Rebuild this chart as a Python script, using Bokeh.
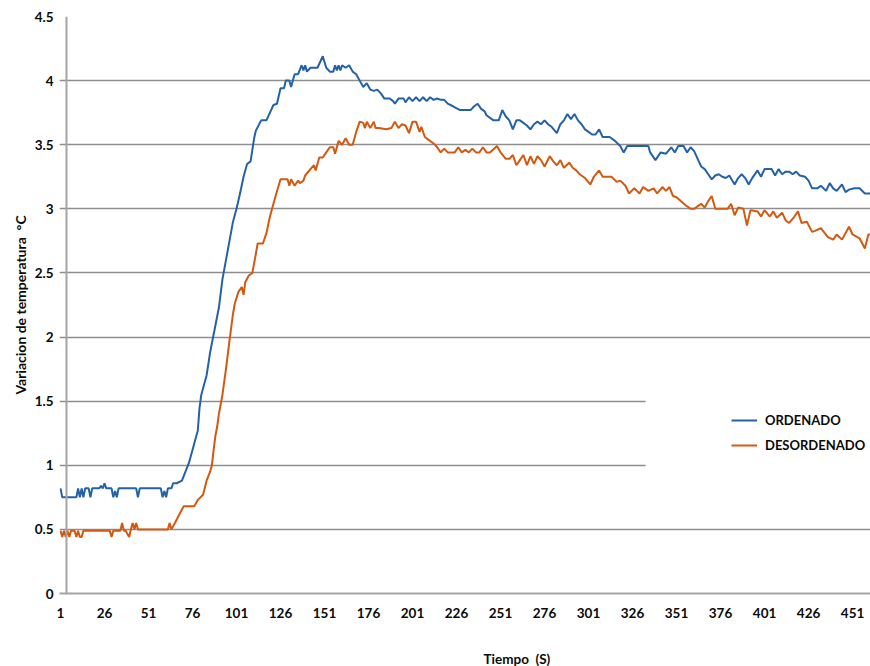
from bokeh.plotting import figure
from bokeh.models import Range1d, FixedTicker, Span, BoxAnnotation, Legend, LegendItem, Title
from bokeh.embed import file_html
from bokeh.resources import INLINE

# ---------------- data ----------------
x_ticks = [1, 26, 51, 76, 101, 126, 151, 176, 201, 226, 251, 276, 301, 326, 351, 376, 401, 426, 451]
x_tick_labels = ["1", "26", "51", "76", "101", "126", "151", "176", "201", "226", "251",
                 "276", "301", "326", "351", "376", "401", "426", "451"]
y_ticks = [0, 0.5, 1, 1.5, 2, 2.5, 3, 3.5, 4, 4.5]
y_tick_labels = ["0", "0.5", "1", "1.5", "2", "2.5", "3", "3.5", "4", "4.5"]
series_names = ["ORDENADO", "DESORDENADO"]
x_title = "Tiempo\u00a0\u00a0(S)"
y_title = "Variacion de temperatura\u00a0\u00a0\u00b0C"

tiempo_ordenado = [1, 2, 10, 11, 12, 13, 14, 15, 17, 18, 19, 23, 24, 25, 26, 27, 30, 31, 32, 33, 34, 44, 45, 46,
                   58, 59, 60, 61, 62, 64, 65, 67, 70, 72, 74, 76, 78, 79, 80, 81, 82, 84, 86, 88, 91, 93, 95,
                   97, 99, 101, 103, 105, 107, 109, 111, 112, 115, 118, 120, 122, 124, 126, 128, 129, 131, 132,
                   134, 136, 138, 139, 140, 141, 143, 145, 147, 150, 152, 154, 156, 157, 158, 159, 160, 161,
                   163, 165, 167, 169, 171, 173, 175, 177, 179, 181, 183, 185, 188, 190, 191, 193, 196, 197,
                   199, 201, 203, 205, 207, 209, 211, 213, 215, 217, 219, 221, 224, 228, 234, 236, 238, 240,
                   242, 243, 247, 250, 252, 254, 256, 258, 260, 262, 264, 266, 268, 270, 272, 274, 276, 278,
                   280, 283, 285, 287, 289, 291, 293, 295, 297, 299, 301, 303, 305, 307, 309, 313, 316, 319,
                   321, 323, 335, 336, 339, 342, 345, 348, 350, 352, 355, 357, 359, 361, 363, 365, 367, 369,
                   371, 373, 375, 377, 379, 381, 384, 386, 388, 390, 392, 394, 397, 399, 401, 405, 407, 409,
                   411, 413, 415, 417, 419, 421, 424, 426, 428, 431, 433, 436, 438, 440, 442, 445, 447, 449,
                   452, 455, 458, 462]
ordenado = [0.82, 0.75, 0.75, 0.82, 0.75, 0.82, 0.75, 0.82, 0.82, 0.75, 0.82, 0.82, 0.84, 0.82, 0.86, 0.82,
            0.82, 0.75, 0.80, 0.75, 0.82, 0.82, 0.75, 0.82, 0.82, 0.75, 0.80, 0.75, 0.82, 0.82, 0.86, 0.86,
            0.88, 0.95, 1.02, 1.12, 1.22, 1.27, 1.45, 1.55, 1.60, 1.70, 1.88, 2.02, 2.23, 2.45, 2.60, 2.75,
            2.90, 3.00, 3.12, 3.25, 3.35, 3.37, 3.55, 3.61, 3.69, 3.69, 3.75, 3.81, 3.82, 3.94, 3.94, 4.00,
            4.00, 3.95, 4.05, 4.05, 4.12, 4.08, 4.12, 4.07, 4.10, 4.10, 4.10, 4.19, 4.10, 4.07, 4.07, 4.12,
            4.08, 4.12, 4.08, 4.12, 4.10, 4.12, 4.07, 4.05, 4.00, 3.95, 3.98, 3.93, 3.92, 3.93, 3.90, 3.86,
            3.86, 3.84, 3.82, 3.86, 3.86, 3.83, 3.87, 3.84, 3.87, 3.84, 3.87, 3.84, 3.87, 3.85, 3.86, 3.85,
            3.85, 3.82, 3.80, 3.77, 3.77, 3.80, 3.82, 3.78, 3.76, 3.73, 3.69, 3.69, 3.77, 3.72, 3.69, 3.62,
            3.69, 3.69, 3.67, 3.65, 3.62, 3.66, 3.68, 3.66, 3.69, 3.66, 3.64, 3.59, 3.66, 3.69, 3.74, 3.70,
            3.74, 3.69, 3.66, 3.62, 3.60, 3.58, 3.58, 3.62, 3.56, 3.56, 3.53, 3.49, 3.44, 3.49, 3.49, 3.44,
            3.38, 3.44, 3.43, 3.48, 3.44, 3.49, 3.49, 3.44, 3.48, 3.45, 3.39, 3.33, 3.31, 3.27, 3.23, 3.26,
            3.27, 3.25, 3.24, 3.26, 3.19, 3.24, 3.27, 3.24, 3.19, 3.24, 3.30, 3.25, 3.31, 3.31, 3.26, 3.31,
            3.27, 3.29, 3.29, 3.27, 3.29, 3.26, 3.25, 3.22, 3.16, 3.16, 3.18, 3.14, 3.20, 3.16, 3.14, 3.19,
            3.13, 3.15, 3.16, 3.16, 3.12, 3.12]

tiempo_desordenado = [1, 2, 3, 4, 5, 6, 7, 9, 10, 11, 12, 13, 14, 29, 30, 31, 35, 36, 37, 38, 40, 41, 42, 43,
                      44, 45, 46, 62, 63, 64, 66, 69, 71, 77, 79, 82, 84, 86, 87, 88, 89, 90, 91, 93, 95, 97,
                      99, 100, 102, 104, 105, 106, 108, 110, 112, 113, 116, 118, 120, 123, 126, 130, 131, 132,
                      134, 136, 137, 139, 140, 143, 145, 146, 148, 150, 152, 154, 156, 157, 159, 161, 163, 165,
                      167, 169, 171, 173, 174, 175, 177, 179, 180, 182, 186, 189, 191, 193, 195, 197, 199, 201,
                      203, 205, 206, 208, 210, 213, 215, 217, 219, 221, 223, 225, 227, 229, 231, 233, 235, 237,
                      239, 241, 243, 245, 249, 251, 254, 256, 258, 260, 262, 264, 266, 268, 270, 272, 274, 276,
                      279, 281, 283, 285, 287, 290, 292, 294, 296, 299, 302, 304, 307, 309, 314, 317, 319, 322,
                      324, 327, 330, 332, 335, 338, 340, 343, 345, 347, 349, 351, 356, 359, 361, 365, 367, 369,
                      371, 373, 380, 382, 384, 386, 389, 391, 393, 397, 399, 401, 404, 406, 408, 411, 413, 415,
                      418, 420, 422, 425, 428, 430, 433, 437, 440, 442, 445, 449, 451, 455, 458, 460, 462]
desordenado = [0.49, 0.44, 0.49, 0.44, 0.49, 0.44, 0.49, 0.49, 0.44, 0.49, 0.44, 0.44, 0.49, 0.49, 0.44,
               0.49, 0.49, 0.55, 0.49, 0.49, 0.44, 0.50, 0.55, 0.50, 0.55, 0.50, 0.50, 0.50, 0.55, 0.50,
               0.55, 0.63, 0.68, 0.68, 0.73, 0.77, 0.88, 0.95, 1.00, 1.12, 1.23, 1.30, 1.40, 1.55, 1.75,
               1.97, 2.18, 2.26, 2.35, 2.39, 2.33, 2.43, 2.48, 2.50, 2.65, 2.73, 2.73, 2.81, 2.94, 3.09,
               3.23, 3.23, 3.18, 3.23, 3.18, 3.22, 3.20, 3.22, 3.26, 3.31, 3.34, 3.30, 3.40, 3.40, 3.44,
               3.48, 3.48, 3.43, 3.53, 3.50, 3.55, 3.50, 3.50, 3.60, 3.68, 3.67, 3.63, 3.68, 3.63, 3.68,
               3.63, 3.63, 3.62, 3.63, 3.68, 3.63, 3.66, 3.65, 3.59, 3.68, 3.68, 3.60, 3.64, 3.56, 3.54,
               3.51, 3.48, 3.44, 3.47, 3.44, 3.44, 3.44, 3.48, 3.44, 3.46, 3.44, 3.47, 3.44, 3.44, 3.48,
               3.44, 3.44, 3.49, 3.44, 3.39, 3.39, 3.42, 3.34, 3.38, 3.42, 3.34, 3.41, 3.35, 3.41, 3.38,
               3.33, 3.41, 3.37, 3.34, 3.38, 3.32, 3.36, 3.32, 3.30, 3.27, 3.24, 3.19, 3.25, 3.30, 3.25,
               3.25, 3.21, 3.22, 3.18, 3.12, 3.16, 3.12, 3.17, 3.14, 3.16, 3.12, 3.17, 3.14, 3.17, 3.10,
               3.09, 3.03, 3.00, 3.00, 3.04, 3.01, 3.06, 3.10, 3.00, 3.00, 3.04, 2.95, 3.01, 3.00, 2.87,
               2.99, 2.98, 2.94, 2.99, 2.94, 2.98, 2.93, 2.97, 2.91, 2.89, 2.94, 2.98, 2.89, 2.90, 2.82,
               2.83, 2.85, 2.78, 2.76, 2.80, 2.76, 2.86, 2.80, 2.77, 2.69, 2.80, 2.80]

# ---------------- styles ----------------
BLUE = "#2462a8"
ORANGE = "#d2590f"
GRID = "#8e8e8e"
AXIS = "#a4a4a4"
FONT = "Lato"
TXT = "#0a0a0a"

p = figure(width=870, height=666, output_backend="svg", toolbar_location=None,
           x_range=Range1d(0.43, 461.2), y_range=Range1d(0, 4.5),
           min_border_left=59, min_border_right=0, min_border_top=16, min_border_bottom=73)
p.outline_line_color = None
p.background_fill_color = "white"
p.border_fill_color = "white"

p.xgrid.visible = False
p.ygrid.ticker = FixedTicker(ticks=y_ticks)
p.ygrid.grid_line_color = GRID
p.ygrid.grid_line_width = 1.6

# y axis
p.yaxis.ticker = FixedTicker(ticks=y_ticks)
p.yaxis.major_label_overrides = {t: l for t, l in zip(y_ticks, y_tick_labels)}
p.yaxis.axis_line_color = None
p.yaxis.major_tick_line_color = None
p.yaxis.minor_tick_line_color = None
p.yaxis.major_tick_out = 0
p.yaxis.major_tick_in = 0
p.yaxis.major_label_standoff = 6
p.yaxis.major_label_text_font = FONT
p.yaxis.major_label_text_font_style = "bold"
p.yaxis.major_label_text_font_size = "13.5px"
p.yaxis.major_label_text_color = TXT
p.yaxis.axis_label = y_title
p.yaxis.axis_label_text_font = FONT
p.yaxis.axis_label_text_font_style = "bold"
p.yaxis.axis_label_text_font_size = "14px"
p.yaxis.axis_label_text_color = TXT
p.yaxis.axis_label_standoff = 3

# x axis
p.xaxis.ticker = FixedTicker(ticks=x_ticks)
p.xaxis.major_label_overrides = {t: l for t, l in zip(x_ticks, x_tick_labels)}
p.xaxis.axis_line_color = AXIS
p.xaxis.axis_line_width = 2
p.xaxis.major_tick_line_color = None
p.xaxis.minor_tick_line_color = None
p.xaxis.major_tick_out = 0
p.xaxis.major_tick_in = 0
p.xaxis.major_label_standoff = 14
p.xaxis.major_label_text_font = FONT
p.xaxis.major_label_text_font_style = "bold"
p.xaxis.major_label_text_font_size = "13.5px"
p.xaxis.major_label_text_color = TXT
# blank spacer label: pushes the (offset) axis title lower in the bottom border
p.xaxis.axis_label = "\u00a0"
p.xaxis.axis_label_text_font_size = "13.5px"
p.xaxis.axis_label_standoff = 10

# vertical axis line (sits a little inside the frame, as in the reference)
p.add_layout(Span(location=4.4, dimension="height", line_color=AXIS, line_width=2))

r1 = p.line(tiempo_ordenado, ordenado, line_color=BLUE, line_width=2)
r2 = p.line(tiempo_desordenado, desordenado, line_color=ORANGE, line_width=2)

# white legend area covering part of the gridlines
p.add_layout(BoxAnnotation(left=333.4, bottom=0.95, top=1.56, fill_color="white", fill_alpha=1.0,
                           line_alpha=0))

legend = Legend(items=[LegendItem(label=series_names[0], renderers=[r1]),
                       LegendItem(label=series_names[1], renderers=[r2])],
                location=(672, 138), padding=0, margin=0, border_line_alpha=0,
                background_fill_alpha=0, glyph_width=26, glyph_height=20, label_height=20,
                label_standoff=8, spacing=5, label_text_font=FONT, label_text_font_style="bold",
                label_text_font_size="13px", label_text_color=TXT)
p.add_layout(legend)

p.add_layout(Title(text=x_title, align="left", offset=424, standoff=0,
                   text_font=FONT, text_font_style="bold", text_font_size="13.5px",
                   text_color=TXT), "below")

open("out.html", "w").write(file_html(p, INLINE))
